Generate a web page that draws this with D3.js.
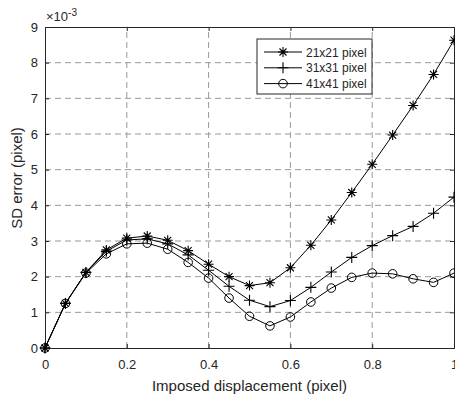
<!DOCTYPE html>
<html>
<head>
<meta charset="utf-8">
<script src="https://d3js.org/d3.v7.min.js"></script>
<style>
  body { margin: 0; background: #fff; }
  text { font-family: "Liberation Sans", Arial, sans-serif; fill: #262626; }
</style>
</head>
<body>
<div id="my_dataviz"></div>
<script>

// data (SD error in 1e-3 pixel)
var disp = [0, 0.05, 0.1, 0.15, 0.2, 0.25, 0.3, 0.35, 0.4, 0.45, 0.5, 0.55, 0.6, 0.65, 0.7, 0.75, 0.8, 0.85, 0.9, 0.95, 1.0]
var err21 = [0, 1.25, 2.12, 2.75, 3.08, 3.14, 3.02, 2.73, 2.35, 2.0, 1.75, 1.83, 2.25, 2.88, 3.59, 4.36, 5.15, 5.97, 6.8, 7.67, 8.63]
var err31 = [0, 1.25, 2.12, 2.71, 3.03, 3.06, 2.92, 2.61, 2.18, 1.73, 1.34, 1.16, 1.33, 1.7, 2.13, 2.54, 2.87, 3.15, 3.41, 3.78, 4.23]
var err41 = [0, 1.25, 2.1, 2.64, 2.92, 2.94, 2.77, 2.4, 1.96, 1.4, 0.89, 0.62, 0.87, 1.29, 1.68, 1.98, 2.1, 2.08, 1.94, 1.84, 2.1]
var seriesNames = ["21x21 pixel", "31x31 pixel", "41x41 pixel"]
var markers = ["star", "plus", "circle"]
var xTicks = [0, 0.2, 0.4, 0.6, 0.8, 1]
var yTicks = [0, 1, 2, 3, 4, 5, 6, 7, 8, 9]

var width = 455, height = 395
var margin = {left: 45, right: 1, top: 27, bottom: 47}

var svg = d3.select("#my_dataviz").append("svg")
  .attr("width", width).attr("height", height)

var x = d3.scaleLinear().domain([0, 1]).range([margin.left, width - margin.right])
var y = d3.scaleLinear().domain([0, 9]).range([height - margin.bottom, margin.top])

// grid
svg.append("g").selectAll("line").data(xTicks.slice(1, -1)).enter().append("line")
  .attr("x1", d => x(d)).attr("x2", d => x(d))
  .attr("y1", y(0)).attr("y2", y(9))
  .attr("stroke", "#999").attr("stroke-dasharray", "6,4")
svg.append("g").selectAll("line").data(yTicks.slice(1, -1)).enter().append("line")
  .attr("y1", d => y(d)).attr("y2", d => y(d))
  .attr("x1", x(0)).attr("x2", x(1))
  .attr("stroke", "#999").attr("stroke-dasharray", "6,4")

// axes, ticks inward, box on
var xAxis = svg.append("g").attr("transform", "translate(0," + y(0) + ")")
  .call(d3.axisBottom(x).tickValues(xTicks).tickSize(-4).tickPadding(12).tickFormat(d3.format("~g")))
var yAxis = svg.append("g").attr("transform", "translate(" + x(0) + ",0)")
  .call(d3.axisLeft(y).tickValues(yTicks).tickSize(-4).tickPadding(7))
var xTop = svg.append("g").attr("transform", "translate(0," + y(9) + ")")
  .call(d3.axisTop(x).tickValues(xTicks).tickSize(-4).tickFormat(""))
var yRight = svg.append("g").attr("transform", "translate(" + x(1) + ",0)")
  .call(d3.axisRight(y).tickValues(yTicks).tickSize(-4).tickFormat(""))

svg.selectAll(".domain").attr("stroke", "#262626")
svg.selectAll(".tick line").attr("stroke", "#262626")
svg.selectAll(".tick text").style("font-size", "13px").attr("fill", "#262626")
  .style("font-family", '"Liberation Sans", Arial, sans-serif')

// exponent label
var ex = svg.append("text").attr("x", x(0) + 1).attr("y", 21).style("font-size", "13px")
ex.append("tspan").text("\u00d710")
ex.append("tspan").text("-3").attr("dy", -5).style("font-size", "10px")

// axis labels
svg.append("text").attr("x", (x(0) + x(1)) / 2).attr("y", 391)
  .attr("text-anchor", "middle").style("font-size", "15px")
  .text("Imposed displacement (pixel)")
svg.append("text").attr("transform", "translate(22,178) rotate(-90)")
  .attr("text-anchor", "middle").style("font-size", "15px")
  .text("SD error (pixel)")

// marker drawing
function drawMarker(g, type) {
  if (type == "star") {
    g.append("path").attr("d", "M-5,0H5M0,-5V5M-3.5,-3.5L3.5,3.5M-3.5,3.5L3.5,-3.5")
      .attr("stroke", "#000").attr("fill", "none").attr("stroke-width", 1.1)
  } else if (type == "plus") {
    g.append("path").attr("d", "M-5.5,0H5.5M0,-5.5V5.5")
      .attr("stroke", "#000").attr("fill", "none").attr("stroke-width", 1.1)
  } else {
    g.append("circle").attr("r", 4.3)
      .attr("stroke", "#000").attr("fill", "none").attr("stroke-width", 1)
  }
}

var allSeries = [err21, err31, err41]
var line = d3.line().x((d, i) => x(disp[i])).y(d => y(d))

allSeries.forEach(function(vals, k) {
  svg.append("path").datum(vals).attr("d", line)
    .attr("fill", "none").attr("stroke", "#000").attr("stroke-width", 1)
  vals.forEach(function(v, i) {
    var g = svg.append("g").attr("transform", "translate(" + x(disp[i]) + "," + y(v) + ")")
    drawMarker(g, markers[k])
  })
})

// legend
var leg = svg.append("g")
leg.append("rect").attr("x", 257).attr("y", 39).attr("width", 115).attr("height", 55)
  .attr("fill", "#fff").attr("stroke", "#262626").attr("stroke-width", 1)
seriesNames.forEach(function(name, k) {
  var ly = 52 + k * 15.8
  leg.append("line").attr("x1", 264).attr("x2", 302).attr("y1", ly).attr("y2", ly)
    .attr("stroke", "#000")
  drawMarker(leg.append("g").attr("transform", "translate(283," + ly + ")"), markers[k])
  leg.append("text").attr("x", 306).attr("y", ly + 4.5).style("font-size", "12px").text(name)
})

</script>
</body>
</html>
